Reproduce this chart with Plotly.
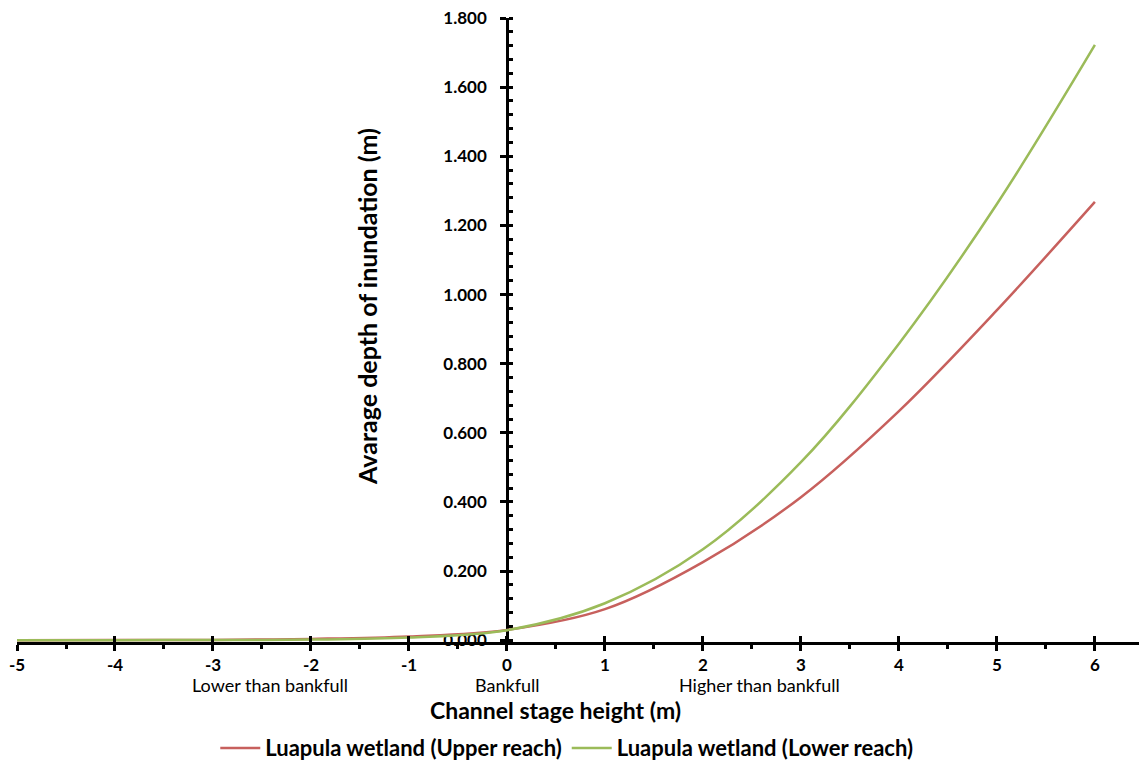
import plotly.graph_objects as go

# Channel stage height relative to bankfull (m)
stage = [-5, -4, -3, -2, -1, 0, 1, 2, 3, 4, 5, 6]

# Average depth of inundation (m)
upper_reach = [0.000, 0.0005, 0.001, 0.004, 0.011, 0.030, 0.090, 0.226, 0.414, 0.663, 0.955, 1.268]
lower_reach = [0.000, 0.0003, 0.0008, 0.002, 0.008, 0.029, 0.107, 0.263, 0.515, 0.858, 1.262, 1.722]

series_names = ["Luapula wetland (Upper reach)", "Luapula wetland (Lower reach)"]
series_colors = ["#C7605D", "#9BBB59"]

x_ticks = [-5, -4, -3, -2, -1, 0, 1, 2, 3, 4, 5, 6]
x_tick_text = ["-5", "-4", "-3", "-2", "-1", "0", "1", "2", "3", "4", "5", "6"]
y_ticks = [0, 0.2, 0.4, 0.6, 0.8, 1.0, 1.2, 1.4, 1.6, 1.8]

zone_labels = ["Lower than bankfull", "Bankfull", "Higher than bankfull"]
zone_x = [-2.42, 0.0, 2.58]

W, H = 1139, 773
M_L, M_R, M_T, M_B = 17, 0, 18, 131
X_RANGE = [-5, 6.45]
Y_RANGE = [-0.005, 1.8]

FONT = "Lato, 'Open Sans', sans-serif"

fig = go.Figure()
for vals, name, col in zip([upper_reach, lower_reach], series_names, series_colors):
    fig.add_trace(go.Scatter(
        x=stage, y=vals, name=name, mode="lines",
        line=dict(color=col, width=2.5, shape="spline", smoothing=1.0),
    ))

# paper position of the stage = 0 line, where the depth axis sits
y_axis_pos = (0 - X_RANGE[0]) / (X_RANGE[1] - X_RANGE[0])

axis_common = dict(showgrid=False, zeroline=False, linecolor="black", layer="below traces")

fig.update_layout(
    width=W, height=H,
    margin=dict(l=M_L, r=M_R, t=M_T, b=M_B),
    paper_bgcolor="white", plot_bgcolor="white",
    font=dict(family=FONT, color="black"),
    xaxis=dict(
        range=X_RANGE, tickmode="array", tickvals=x_ticks, ticktext=x_tick_text,
        showline=True, linewidth=2.5,
        ticks="outside", ticklen=6, tickwidth=2.5, tickcolor="black",
        minor=dict(ticks="outside", ticklen=4, tickwidth=2.5, dtick=0.5, tick0=0, tickcolor="black"),
        tickfont=dict(size=17, family=FONT, weight="bold"),
        ticklabelstandoff=0,
        **axis_common,
    ),
    xaxis2=dict(
        range=X_RANGE, tickmode="array", tickvals=x_ticks,
        overlaying="x", anchor="y", side="bottom",
        ticks="inside", ticklen=6, tickwidth=2.5, tickcolor="black",
        showticklabels=False, showline=False, showgrid=False, zeroline=False,
    ),
    yaxis=dict(
        range=Y_RANGE, tickmode="array", tickvals=y_ticks,
        tickformat=".3f", anchor="free", position=y_axis_pos, showline=True, linewidth=2.5,
        ticks="outside", ticklen=6, tickwidth=2.5, tickcolor="black",
        minor=dict(ticks="inside", ticklen=4, tickwidth=2.5, dtick=0.04, tick0=0, tickcolor="black"),
        tickfont=dict(size=17, family=FONT, weight="bold"),
        ticklabelstandoff=10,
        **axis_common,
    ),
    yaxis2=dict(
        range=Y_RANGE, tickmode="array", tickvals=y_ticks,
        overlaying="y", anchor="free", position=y_axis_pos, side="left",
        ticks="inside", ticklen=5, tickwidth=2.5, tickcolor="black",
        showticklabels=False, showline=False, showgrid=False, zeroline=False,
    ),
    showlegend=True,
    legend=dict(
        orientation="h", x=0.49, xanchor="center", y=-0.17, yanchor="middle",
        font=dict(size=22, family=FONT, weight="bold"), itemwidth=40,
        bgcolor="rgba(0,0,0,0)",
    ),
)

# invisible carriers so the overlay axes are drawn
fig.add_trace(go.Scatter(x=[X_RANGE[0]], y=[None], xaxis="x2", yaxis="y", showlegend=False, hoverinfo="skip"))
fig.add_trace(go.Scatter(x=[None], y=[Y_RANGE[0]], xaxis="x", yaxis="y2", showlegend=False, hoverinfo="skip"))

for label, xv in zip(zone_labels, zone_x):
    fig.add_annotation(
        x=xv, xref="x", y=-0.069, yref="paper", text=label, showarrow=False,
        xanchor="center", yanchor="middle", font=dict(size=18, family=FONT),
    )

fig.add_annotation(
    x=0.48, xref="paper", y=-0.109, yref="paper", text="Channel stage height (m)",
    showarrow=False, xanchor="center", yanchor="middle",
    font=dict(size=23, family=FONT, weight="bold"),
)
fig.add_annotation(
    x=0.312, xref="paper", y=0.537, yref="paper", text="Avarage depth of inundation (m)",
    showarrow=False, textangle=-90, xanchor="center", yanchor="middle",
    font=dict(size=25, family=FONT, weight="bold"),
)

fig.write_html("out.html")
